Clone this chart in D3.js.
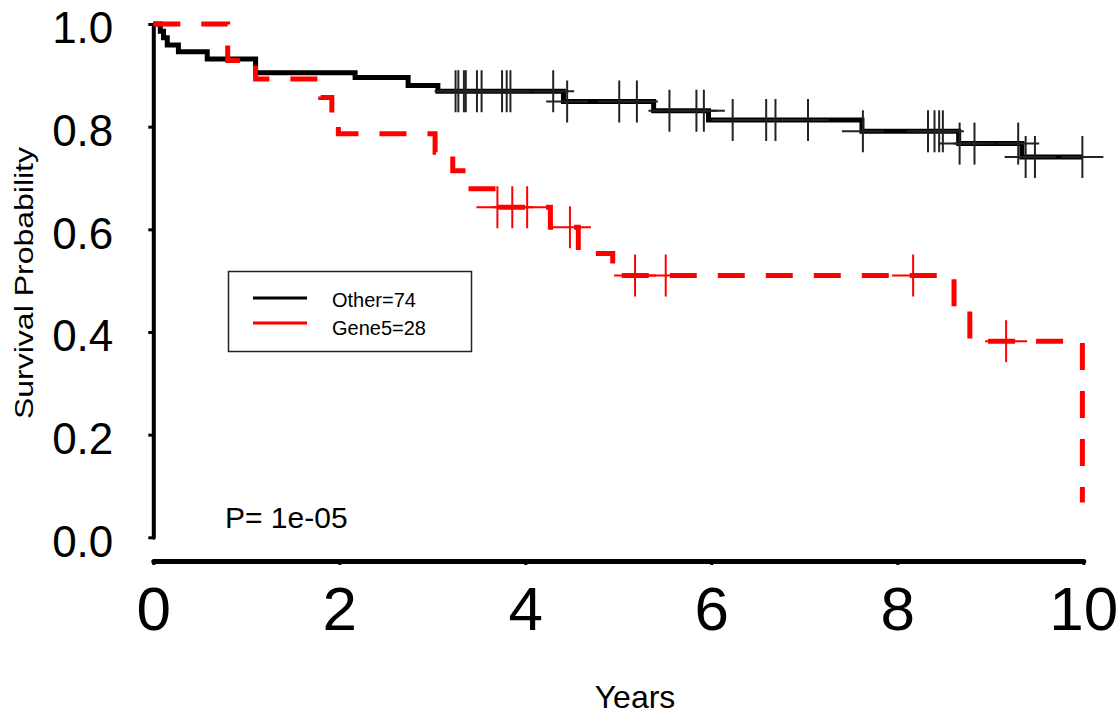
<!DOCTYPE html>
<html>
<head>
<meta charset="utf-8">
<script src="https://cdn.jsdelivr.net/npm/d3@7"></script>
<style>
  html, body { margin: 0; padding: 0; background: #fff; }
  svg { display: block; }
  text { font-family: "Liberation Sans", Arial, sans-serif; fill: #000; }
</style>
</head>
<body>
<svg id="chart" width="1119" height="714"></svg>
<script>
// ---- data ----
const otherTimes = [0.075, 0.11, 0.15, 0.27, 0.58, 1.10, 2.17, 2.74, 3.06, 4.41, 5.38, 5.97, 7.62, 8.66, 9.34];
const otherSurv  = [0.986, 0.973, 0.959, 0.946, 0.932, 0.905, 0.896, 0.880, 0.869, 0.849, 0.831, 0.813, 0.791, 0.767, 0.741];
const otherEnd = 9.99;
const otherCensor = [3.25, 3.28, 3.34, 3.36, 3.48, 3.53, 3.75, 3.80, 3.84, 4.30, 4.45, 5.01, 5.20,
                     5.55, 5.84, 5.92, 6.23, 6.59, 6.69, 7.04, 7.63, 8.33, 8.40, 8.45, 8.49,
                     8.67, 8.83, 9.30, 9.38, 9.48, 9.99];

const geneTimes = [0.80, 1.10, 1.80, 1.92, 1.99, 3.03, 3.22, 3.37, 3.68, 4.27, 4.57, 4.94, 8.61, 8.78, 9.99];
const geneSurv  = [0.929, 0.893, 0.857, 0.821, 0.786, 0.750, 0.714, 0.679, 0.643, 0.604, 0.553, 0.510, 0.446, 0.382, 0.068];
const geneCensor = [3.70, 3.86, 4.02, 4.48, 5.18, 5.51, 8.17, 9.17];

const xTicks = [0, 2, 4, 6, 8, 10];
const yTicks = [0, 0.2, 0.4, 0.6, 0.8, 1.0];
const legendLabels = ["Other=74", "Gene5=28"];
const seriesColors = ["#000000", "#ff0000"];
const pText = "P= 1e-05";
const xTitle = "Years";
const yTitle = "Survival Probability";

// ---- layout ----
const svg = d3.select("#chart");
const x = d3.scaleLinear().domain([0, 10]).range([153.3, 1083.3]);
const y = d3.scaleLinear().domain([0, 1]).range([537.3, 24]);

function stepAt(times, surv, t) {
  const i = d3.bisectRight(times, t);
  return i === 0 ? 1 : surv[i - 1];
}

// y axis
const yAxis = svg.append("g").attr("transform", `translate(${x(0)},0)`)
  .call(d3.axisLeft(y).tickValues(yTicks).tickFormat(d3.format(".1f"))
    .tickSize(5).tickSizeOuter(0).tickPadding(35));
yAxis.select(".domain").attr("stroke", "#000").attr("stroke-width", 4).attr("stroke-linecap", "round");
yAxis.selectAll(".tick line").attr("stroke", "#000").attr("stroke-width", 3);
yAxis.selectAll(".tick text").attr("font-size", 44).attr("dy", "0.43em")
  .style("font-family", '"Liberation Sans", Arial, sans-serif').attr("fill", "#000");

// x axis
const xAxis = svg.append("g").attr("transform", `translate(0,561)`)
  .call(d3.axisBottom(x).tickValues(xTicks).tickFormat(d3.format("d"))
    .tickSize(4).tickSizeOuter(0).tickPadding(21));
xAxis.select(".domain").attr("stroke", "#000").attr("stroke-width", 5).attr("stroke-linecap", "round");
xAxis.selectAll(".tick line").attr("stroke", "#000").attr("stroke-width", 3);
xAxis.selectAll(".tick text").attr("font-size", 62)
  .style("font-family", '"Liberation Sans", Arial, sans-serif').attr("fill", "#000");

// curves
const line = d3.line().x(d => x(d[0])).y(d => y(d[1])).curve(d3.curveStepAfter);

const otherPts = [[0, 1]].concat(otherTimes.map((t, i) => [t, otherSurv[i]]));
otherPts.push([otherEnd, otherSurv[otherSurv.length - 1]]);
svg.append("path").datum(otherPts).attr("d", line)
  .attr("fill", "none").attr("stroke", seriesColors[0]).attr("stroke-width", 5)
  .attr("stroke-linejoin", "miter");

const crossHalf = 21;
function drawCrosses(times, surv, censor, color) {
  const g = svg.append("g").attr("stroke", color).attr("stroke-width", 2);
  censor.forEach(t => {
    const cx = x(t), cy = y(stepAt(times, surv, t));
    g.append("line").attr("x1", cx - crossHalf).attr("x2", cx + crossHalf).attr("y1", cy).attr("y2", cy);
    g.append("line").attr("x1", cx).attr("x2", cx).attr("y1", cy - crossHalf).attr("y2", cy + crossHalf);
  });
}
drawCrosses(otherTimes, otherSurv, otherCensor, "#222");

const genePts = [[0, 1]].concat(geneTimes.map((t, i) => [t, geneSurv[i]]));
svg.append("path").datum(genePts).attr("d", line)
  .attr("fill", "none").attr("stroke", seriesColors[1]).attr("stroke-width", 5)
  .attr("stroke-dasharray", "27,21").attr("stroke-linecap", "butt");
drawCrosses(geneTimes, geneSurv, geneCensor, seriesColors[1]);

// legend
svg.append("rect").attr("x", 228.5).attr("y", 271.5).attr("width", 243).attr("height", 80)
  .attr("fill", "#fff").attr("stroke", "#222").attr("stroke-width", 1.5);
legendLabels.forEach((lab, i) => {
  const ly = 298 + i * 25;
  svg.append("line").attr("x1", 253).attr("x2", 307).attr("y1", ly).attr("y2", ly)
    .attr("stroke", seriesColors[i]).attr("stroke-width", 3);
  svg.append("text").attr("x", 332).attr("y", ly + 8.5 + i * 3).attr("font-size", 20).text(lab);
});

// p-value
svg.append("text").attr("x", 225).attr("y", 528).attr("font-size", 30).text(pText);

// axis titles
svg.append("text").attr("x", 635).attr("y", 708).attr("text-anchor", "middle")
  .attr("font-size", 32).text(xTitle);
svg.append("text").attr("transform", "translate(33,283) rotate(-90)")
  .attr("text-anchor", "middle").attr("font-size", 25)
  .attr("textLength", 272).attr("lengthAdjust", "spacingAndGlyphs").text(yTitle);
</script>
</body>
</html>
